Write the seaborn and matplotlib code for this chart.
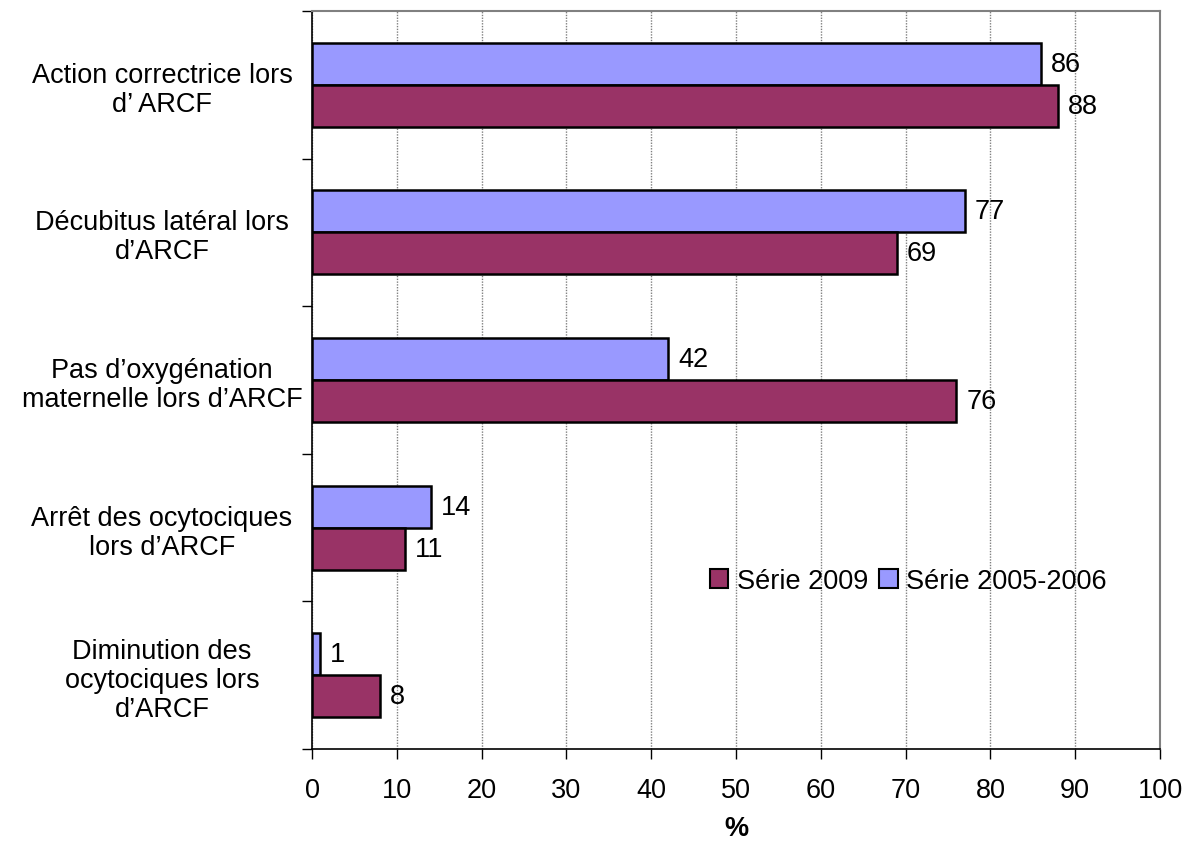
import matplotlib
matplotlib.use("Agg")
import matplotlib.pyplot as plt
from matplotlib.patches import Patch
import numpy as np
import pandas as pd
import seaborn as sns

categories = [
    "Action correctrice lors\nd\u2019 ARCF",
    "Décubitus latéral lors\nd\u2019ARCF",
    "Pas d\u2019oxygénation\nmaternelle lors d\u2019ARCF",
    "Arrêt des ocytociques\nlors d\u2019ARCF",
    "Diminution des\nocytociques lors\nd\u2019ARCF",
]
serie_2005_2006 = [86, 77, 42, 14, 1]
serie_2009 = [88, 69, 76, 11, 8]
series_names = ["Série 2005-2006", "Série 2009"]
series_colors = ["#9999FF", "#993366"]
x_ticks = list(range(0, 101, 10))
x_label = "%"

df = pd.DataFrame({
    "categorie": categories * 2,
    "valeur": serie_2005_2006 + serie_2009,
    "serie": [series_names[0]] * len(categories) + [series_names[1]] * len(categories),
})

sns.set_theme(style="white")
plt.rcParams["font.family"] = ["Liberation Sans", "DejaVu Sans"]
plt.rcParams["text.color"] = "black"
plt.rcParams["xtick.color"] = "black"
plt.rcParams["ytick.color"] = "black"
plt.rcParams["axes.labelcolor"] = "black"
FS = 19.5

fig = plt.figure(figsize=(11.86, 8.45), dpi=100)
ax = fig.add_axes([312 / 1186, 95 / 845, 848 / 1186, 738 / 845])

sns.barplot(
    data=df, y="categorie", x="valeur", hue="serie",
    order=categories, hue_order=series_names,
    palette=series_colors, width=0.57, orient="h",
    edgecolor="black", linewidth=1.8, saturation=1, ax=ax, legend=False,
)

for cont in ax.containers:
    ax.bar_label(cont, fmt="%d", padding=7, fontsize=FS, color="black")

ax.set_xlim(0, 100)
ax.set_ylim(len(categories) - 0.5, -0.5)
ax.set_xticks(x_ticks)
ax.set_xticklabels([str(t) for t in x_ticks], fontsize=FS)
ax.set_yticks(range(len(categories)))
ax.set_yticklabels(categories, fontsize=FS, ha="center", multialignment="center",
                   linespacing=1.15)
# pad in points: puts the centred labels around x = 162 px
ax.tick_params(axis="y", which="major", length=0, pad=108)
ax.set_yticks(np.arange(-0.5, len(categories), 1.0), minor=True)
ax.tick_params(axis="y", which="minor", length=7, width=1, color="black", left=True)
ax.tick_params(axis="x", which="major", length=7, width=1, color="black", bottom=True, pad=13)
ax.set_ylabel("")
ax.set_xlabel(x_label, fontsize=FS, fontweight="bold", labelpad=9)

ax.xaxis.grid(True, linestyle=(0, (1, 1)), color="#808080", linewidth=1)
ax.yaxis.grid(False)
ax.set_axisbelow(True)

for side in ["left", "bottom"]:
    ax.spines[side].set_color("black")
    ax.spines[side].set_linewidth(1.2)
for side in ["top", "right"]:
    ax.spines[side].set_color("#808080")
    ax.spines[side].set_linewidth(1.5)

handles = [
    Patch(facecolor=series_colors[1], edgecolor="black", linewidth=1.5, label=series_names[1]),
    Patch(facecolor=series_colors[0], edgecolor="black", linewidth=1.5, label=series_names[0]),
]
ax.legend(
    handles=handles, loc="center left", bbox_to_anchor=(0.456, 0.228),
    ncol=2, frameon=False, fontsize=FS, handlelength=0.7, handleheight=0.7,
    handletextpad=0.3, columnspacing=0.4, borderaxespad=0,
)

fig.savefig("out.png", dpi=100, facecolor="white")
